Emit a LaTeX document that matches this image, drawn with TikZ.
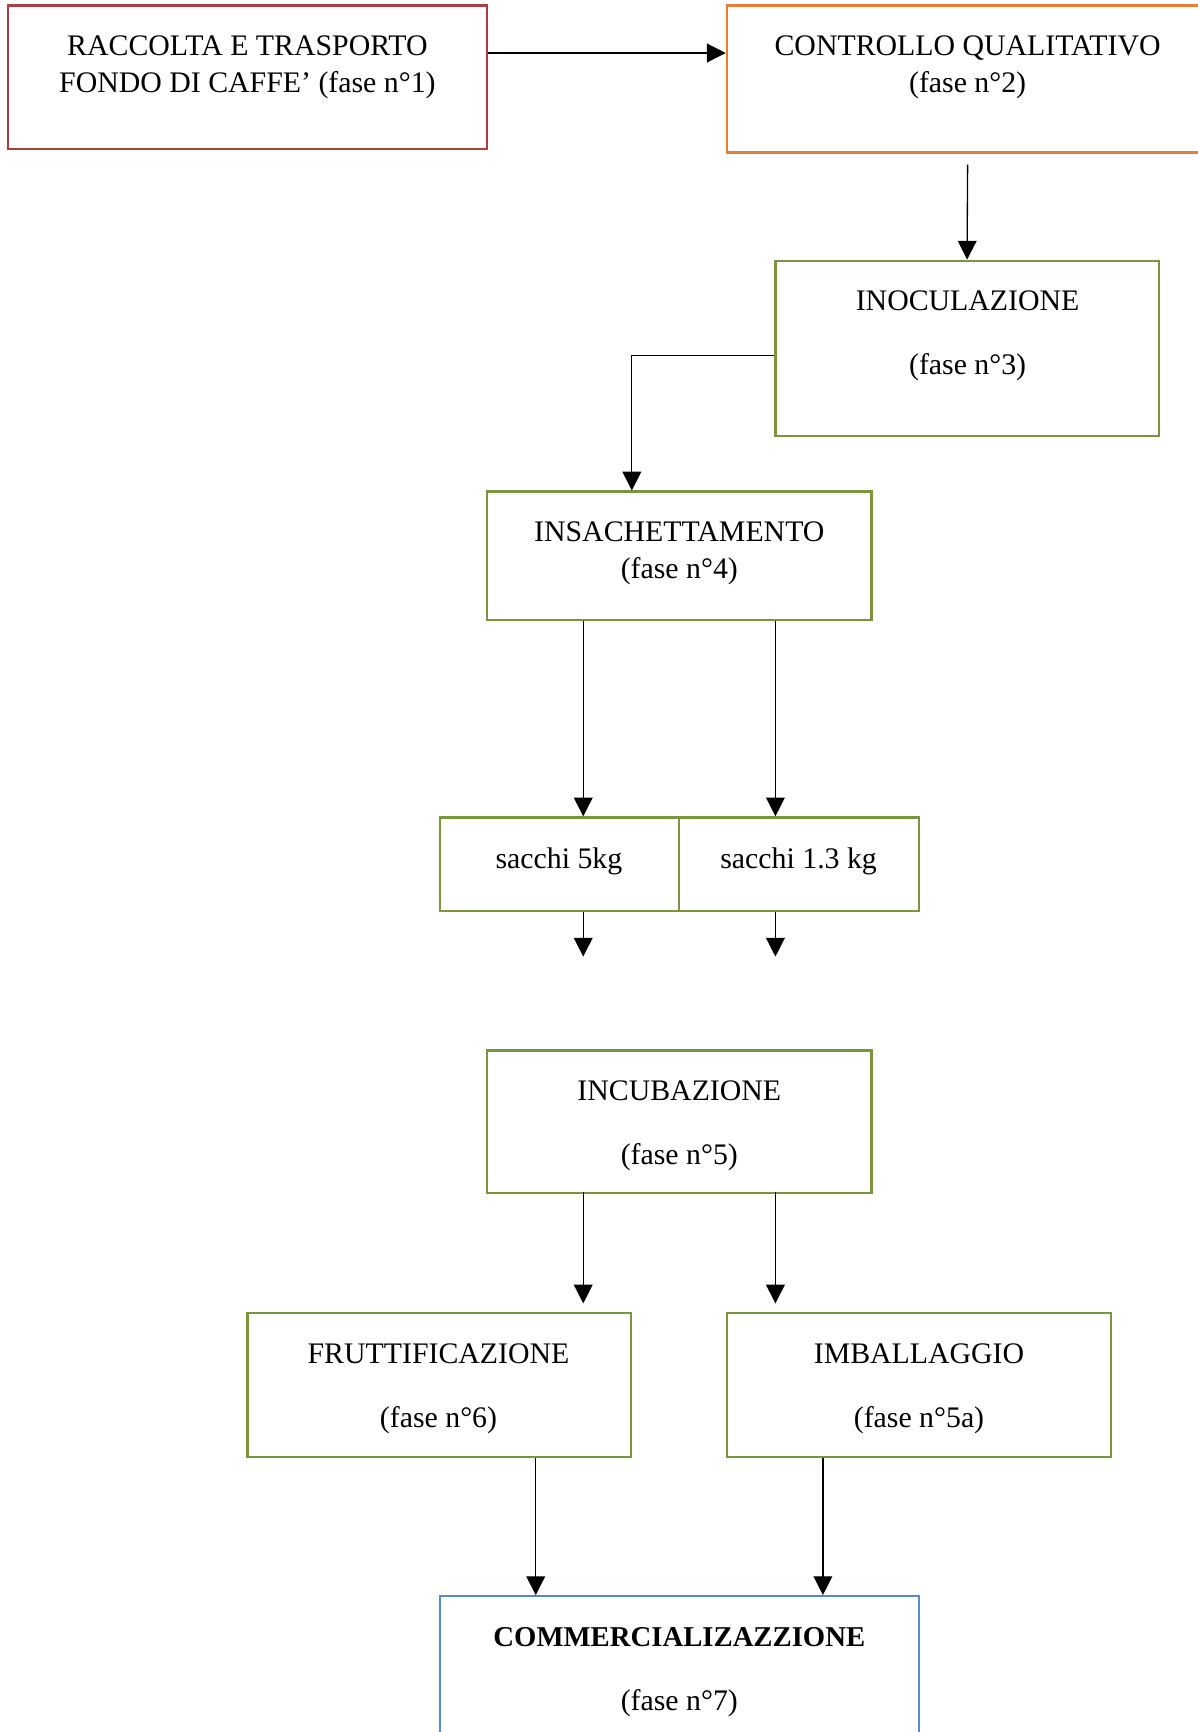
\documentclass[tikz,border=0pt]{standalone}
\usepackage{fontspec}
\setmainfont{Liberation Serif}
\usetikzlibrary{arrows.meta}
\definecolor{rosso}{RGB}{168,64,62}
\definecolor{arancio}{RGB}{233,125,50}
\definecolor{verde}{RGB}{122,150,60}
\definecolor{blu}{RGB}{86,138,204}
\tikzset{
	fase/.style={draw=verde, line width=2pt, minimum width=348pt, minimum height=130pt, inner sep=0pt},
	testo/.style={align=center, font=\fontsize{27}{34}\selectfont},
	freccia/.style={-{Triangle[width=17pt,length=17pt]}, line width=1.2pt},
}
\begin{document}
\begin{tikzpicture}[x=1pt, y=-1pt]
	\useasboundingbox (0,0) rectangle (1084,1568);
	\node [fase, draw=rosso, minimum width=434pt] (raccolta) at (224,70) {};
	\node [fase, draw=arancio, minimum width=436pt, minimum height=133pt] (controllo) at (876,71.5) {};
	\node [fase, minimum width=347pt, minimum height=159pt] (inoculazione) at (875.5,315.5) {};
	\node [fase, minimum height=116pt] (insachettamento) at (615,503) {};
	\node [fase, minimum width=217pt, minimum height=85pt] (sacchi5) at (506.5,782.5) {};
	\node [fase, minimum width=217pt, minimum height=85pt] (sacchi13) at (723.5,782.5) {};
	\node [fase, minimum height=129pt] (incubazione) at (615,1015.5) {};
	\node [fase, minimum width=347pt] (fruttificazione) at (397.5,1254) {};
	\node [fase] (imballaggio) at (832,1254) {};
	\node [fase, draw=blu, minimum width=434pt, minimum height=165pt] (commercializzazione) at (615,1527.5) {};

	\node [testo] (raccolta-t) at (224,61) {RACCOLTA E TRASPORTO\\FONDO DI CAFFE’ (fase n°1)};
	\node [testo] (controllo-t) at (876,61) {CONTROLLO QUALITATIVO\\(fase n°2)};
	\node [testo] (inoculazione-t) at (876,304) {INOCULAZIONE\\[24pt](fase n°3)};
	\node [testo] (insachettamento-t) at (615,501) {INSACHETTAMENTO\\(fase n°4)};
	\node [testo] (sacchi5-t) at (506,780) {sacchi 5kg};
	\node [testo] (sacchi13-t) at (723,780) {sacchi 1.3 kg};
	\node [testo] (incubazione-t) at (615,1019) {INCUBAZIONE\\[24pt](fase n°5)};
	\node [testo] (fruttificazione-t) at (397,1257.5) {FRUTTIFICAZIONE\\[24pt](fase n°6)};
	\node [testo] (imballaggio-t) at (832,1257.5) {IMBALLAGGIO\\[24pt](fase n°5a)};
	\node [testo] (commercializzazione-t) at (615,1513.5) {{\fontsize{26}{34}\selectfont\bfseries COMMERCIALIZAZZIONE}\\[24pt](fase n°7)};

	\coordinate (fine5) at (528,866);
	\coordinate (fine13) at (702,866);
	\coordinate (fine6) at (528,1180);
	\coordinate (fine5a) at (702,1180);

	\draw [freccia] ([yshift=22pt]raccolta.east) -- ([yshift=23.5pt]controllo.west);
	\draw [freccia] ([yshift=-10pt]controllo.south) -- (inoculazione.north);
	\draw [freccia] ([yshift=-6.5pt]inoculazione.west) -| ([xshift=-43pt]insachettamento.north);
	\draw [freccia] ([xshift=-87pt]insachettamento.south) -- ([xshift=-87pt]insachettamento.south |- sacchi5.north);
	\draw [freccia] ([xshift=87pt]insachettamento.south) -- ([xshift=87pt]insachettamento.south |- sacchi13.north);
	\draw [freccia] (sacchi5.south -| fine5) -- (fine5);
	\draw [freccia] (sacchi13.south -| fine13) -- (fine13);
	\draw [freccia] ([xshift=-87pt,yshift=2pt]incubazione.south) -- (fine6);
	\draw [freccia] ([xshift=87pt,yshift=2pt]incubazione.south) -- (fine5a);
	\draw [freccia] ([xshift=87.5pt]fruttificazione.south) -- ([xshift=87.5pt]fruttificazione.south |- commercializzazione.north);
	\draw [freccia] ([xshift=-87pt]imballaggio.south) -- ([xshift=-87pt]imballaggio.south |- commercializzazione.north);
\end{tikzpicture}
\end{document}
